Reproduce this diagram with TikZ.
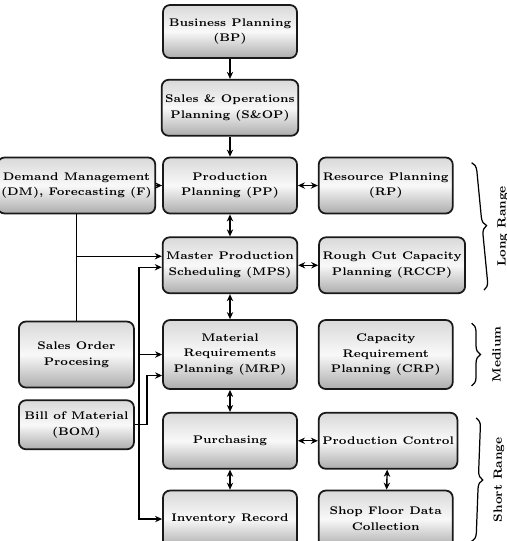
\documentclass[tikz,border=0pt]{standalone}
\usetikzlibrary{arrows.meta,positioning,decorations.pathreplacing}

\begin{document}
\begin{tikzpicture}[>={Stealth[length=4pt,width=3.6pt]},thick,node distance=0.4,
  plan box/.style={draw=black!90,line width=1pt,rounded corners=4pt,
    top color=gray!30,bottom color=gray!65,middle color=gray!5,
    align=center,minimum width=2.68cm,minimum height=1.12cm,inner xsep=2pt,
    font=\fontsize{6.3}{9}\selectfont\bfseries},
  range brace/.style={decorate,decoration={brace,amplitude=5pt},line width=0.7pt},
  range label/.style={rotate=90,font=\fontsize{6.8}{9}\selectfont\bfseries}]
    \useasboundingbox (0,0) rectangle (10.12,-10.82);
    % main column
    \node[plan box,minimum height=1.06cm](BP) at (4.6,-0.63){Business Planning\\(BP)};
    \node[plan box,below=of BP](SOP){Sales \& Operations\\Planning (S\&OP)};
    \node[plan box,below=of SOP](PP){Production\\Planning (PP)};
    \node[plan box,below=0.44 of PP](MPS){Master Production\\Scheduling (MPS)};
    \node[plan box,below=0.5 of MPS,minimum height=1.38cm](MRP){Material\\Requirements\\Planning (MRP)};
    \node[plan box,below=0.44 of MRP](PUR){Purchasing};
    \node[plan box,below=of PUR,minimum height=1.14cm](INV){Inventory Record};
    % right column
    \node[plan box,right=of PP](RP){Resource Planning\\(RP)};
    \node[plan box,right=of MPS](RCCP){Rough Cut Capacity\\Planning (RCCP)};
    \node[plan box,right=of MRP,minimum height=1.38cm](CRP){Capacity\\Requirement\\Planning (CRP)};
    \node[plan box,right=of PUR](PC){Production Control};
    \node[plan box,right=of INV,minimum height=1.14cm](SFDC){Shop Floor Data\\Collection};
    % left column
    \node[plan box,left=0.12 of PP,minimum width=2.9cm](DM){Demand Management\\(DM), Forecasting (F)};
    \node[plan box,minimum width=2.3cm,minimum height=1.32cm](SOrd) at (DM |- MRP){Sales Order\\Procesing};
    \node[plan box,below=0.22 of SOrd,minimum width=2.3cm,minimum height=0.98cm](BOM){Bill of Material\\(BOM)};

    \coordinate (mps in1) at ([yshift=0.18cm]MPS.west);
    \coordinate (mps in2) at ([yshift=-0.04cm]MPS.west);
    \coordinate (mrp in2) at ([yshift=-0.42cm]MRP.west);
    \coordinate (so bus) at ([xshift=0.08cm]SOrd.east);
    \coordinate (bom bend) at ([xshift=0.24cm]BOM.east);

    \path[->] (BP) edge (SOP)
          (SOP) edge (PP)
          (DM) edge (PP)
    ;
    \path[<->]
          (PP) edge (RP)
          (PP) edge (MPS)
          (MPS) edge (RCCP)
          (MPS) edge (MRP)
          (MRP) edge (PUR)
          (PUR) edge (PC)
          (PUR) edge (INV)
          (PC) edge (SFDC)
    ;
    \draw (DM) -- (SOrd);
    \draw[->] (DM.south |- mps in1) -- (mps in1);
    \draw[<->] (mps in2) -| (so bus) |- (INV.west);
    \draw[->] (so bus |- MRP.west) -- (MRP.west);
    \draw[->] (BOM.east) -- (bom bend) |- (mrp in2);

    % ranges
    \draw[range brace] ([xshift=0.36cm,yshift=-0.12cm]RP.north east) -- ([xshift=0.36cm,yshift=0.08cm]RCCP.south east)
        coordinate[midway](lr mid);
    \draw[range brace] ([xshift=0.36cm,yshift=-0.08cm]CRP.north east) -- ([xshift=0.36cm,yshift=0.08cm]CRP.south east)
        coordinate[midway](mr mid);
    \draw[range brace] ([xshift=0.36cm,yshift=-0.12cm]PC.north east) -- ([xshift=0.36cm,yshift=0.14cm]SFDC.south east)
        coordinate[midway](sr mid);
    \node[range label](LR) at ([xshift=0.5cm]lr mid){Long Range};
    \node[range label](MR) at ([xshift=0.5cm]mr mid){Medium};
    \node[range label](SR) at ([xshift=0.5cm]sr mid){Short Range};
\end{tikzpicture}
\end{document}
